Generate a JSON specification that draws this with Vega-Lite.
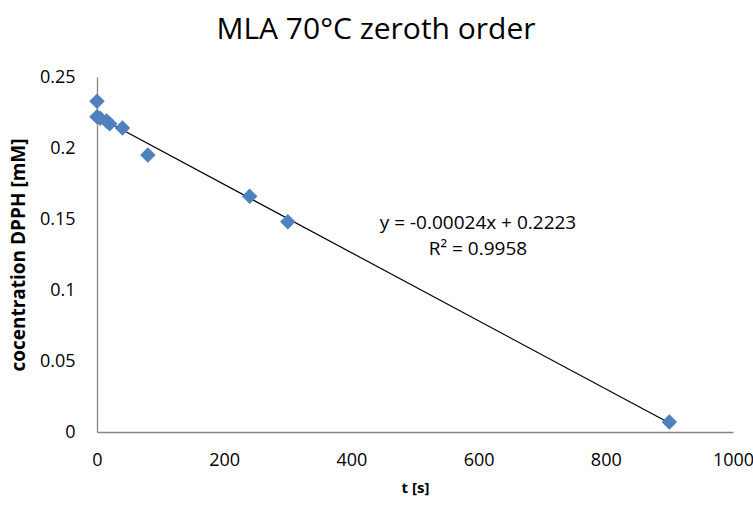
{
  "$schema": "https://vega.github.io/schema/vega-lite/v6.json",
  "width": 636,
  "height": 355,
  "autosize": {"type": "none"},
  "padding": {"left": 97, "top": 77, "right": 20, "bottom": 75},
  "background": "white",
  "title": {
    "text": "MLA 70°C zeroth order",
    "font": "Open Sans",
    "fontSize": 30,
    "fontWeight": "normal",
    "color": "#000000",
    "anchor": "middle",
    "dx": -39,
    "offset": 23
  },
  "config": {
    "view": {"stroke": null},
    "font": "Open Sans"
  },
  "datasets": {
    "measured": [
      {"t": 0, "c": 0.233},
      {"t": 0, "c": 0.222},
      {"t": 5, "c": 0.221},
      {"t": 15, "c": 0.219},
      {"t": 20, "c": 0.217},
      {"t": 40, "c": 0.214},
      {"t": 80, "c": 0.195},
      {"t": 240, "c": 0.166},
      {"t": 300, "c": 0.148},
      {"t": 900, "c": 0.007}
    ],
    "trend": [
      {"t": 0, "c": 0.2223},
      {"t": 900, "c": 0.0063}
    ],
    "notes": [
      {"t": 599, "c": 0.147, "label": "y = -0.00024x + 0.2223"},
      {"t": 599, "c": 0.129, "label": "R² = 0.9958"}
    ]
  },
  "layer": [
    {
      "data": {"name": "trend"},
      "mark": {"type": "line", "color": "#000000", "strokeWidth": 1.2},
      "encoding": {
        "x": {
          "field": "t",
          "type": "quantitative",
          "scale": {"domain": [0, 1000], "nice": false},
          "axis": {
            "title": "t [s]",
            "values": [0, 200, 400, 600, 800, 1000],
            "format": "d",
            "grid": false,
            "ticks": false,
            "domainColor": "#868686",
            "domainWidth": 1.3,
            "labelFont": "Open Sans",
            "labelFontSize": 18,
            "labelColor": "#000000",
            "labelPadding": 19,
            "labelFlush": false,
            "titleFont": "Open Sans",
            "titleFontSize": 15,
            "titleFontWeight": "bold",
            "titleColor": "#000000",
            "titlePadding": 11
          }
        },
        "y": {
          "field": "c",
          "type": "quantitative",
          "scale": {"domain": [0, 0.25], "nice": false},
          "axis": {
            "title": "cocentration DPPH [mM]",
            "values": [0, 0.05, 0.1, 0.15, 0.2, 0.25],
            "labelExpr": "datum.value == 0 ? '0' : format(datum.value, '.2~f')",
            "grid": false,
            "ticks": false,
            "domainColor": "#868686",
            "domainWidth": 1.3,
            "labelFont": "Open Sans",
            "labelFontSize": 18,
            "labelColor": "#000000",
            "labelPadding": 22,
            "titleFont": "Open Sans",
            "titleFontSize": 19,
            "titleFontWeight": "bold",
            "titleColor": "#000000",
            "titlePadding": 11
          }
        }
      }
    },
    {
      "data": {"name": "measured"},
      "mark": {"type": "point", "shape": "diamond", "filled": true, "color": "#4F81BD", "opacity": 1, "size": 240},
      "encoding": {
        "x": {"field": "t", "type": "quantitative"},
        "y": {"field": "c", "type": "quantitative"}
      }
    },
    {
      "data": {"name": "notes"},
      "mark": {"type": "text", "font": "Open Sans", "fontSize": 19, "color": "#000000", "align": "center", "baseline": "middle"},
      "encoding": {
        "x": {"field": "t", "type": "quantitative"},
        "y": {"field": "c", "type": "quantitative"},
        "text": {"field": "label"}
      }
    }
  ]
}
